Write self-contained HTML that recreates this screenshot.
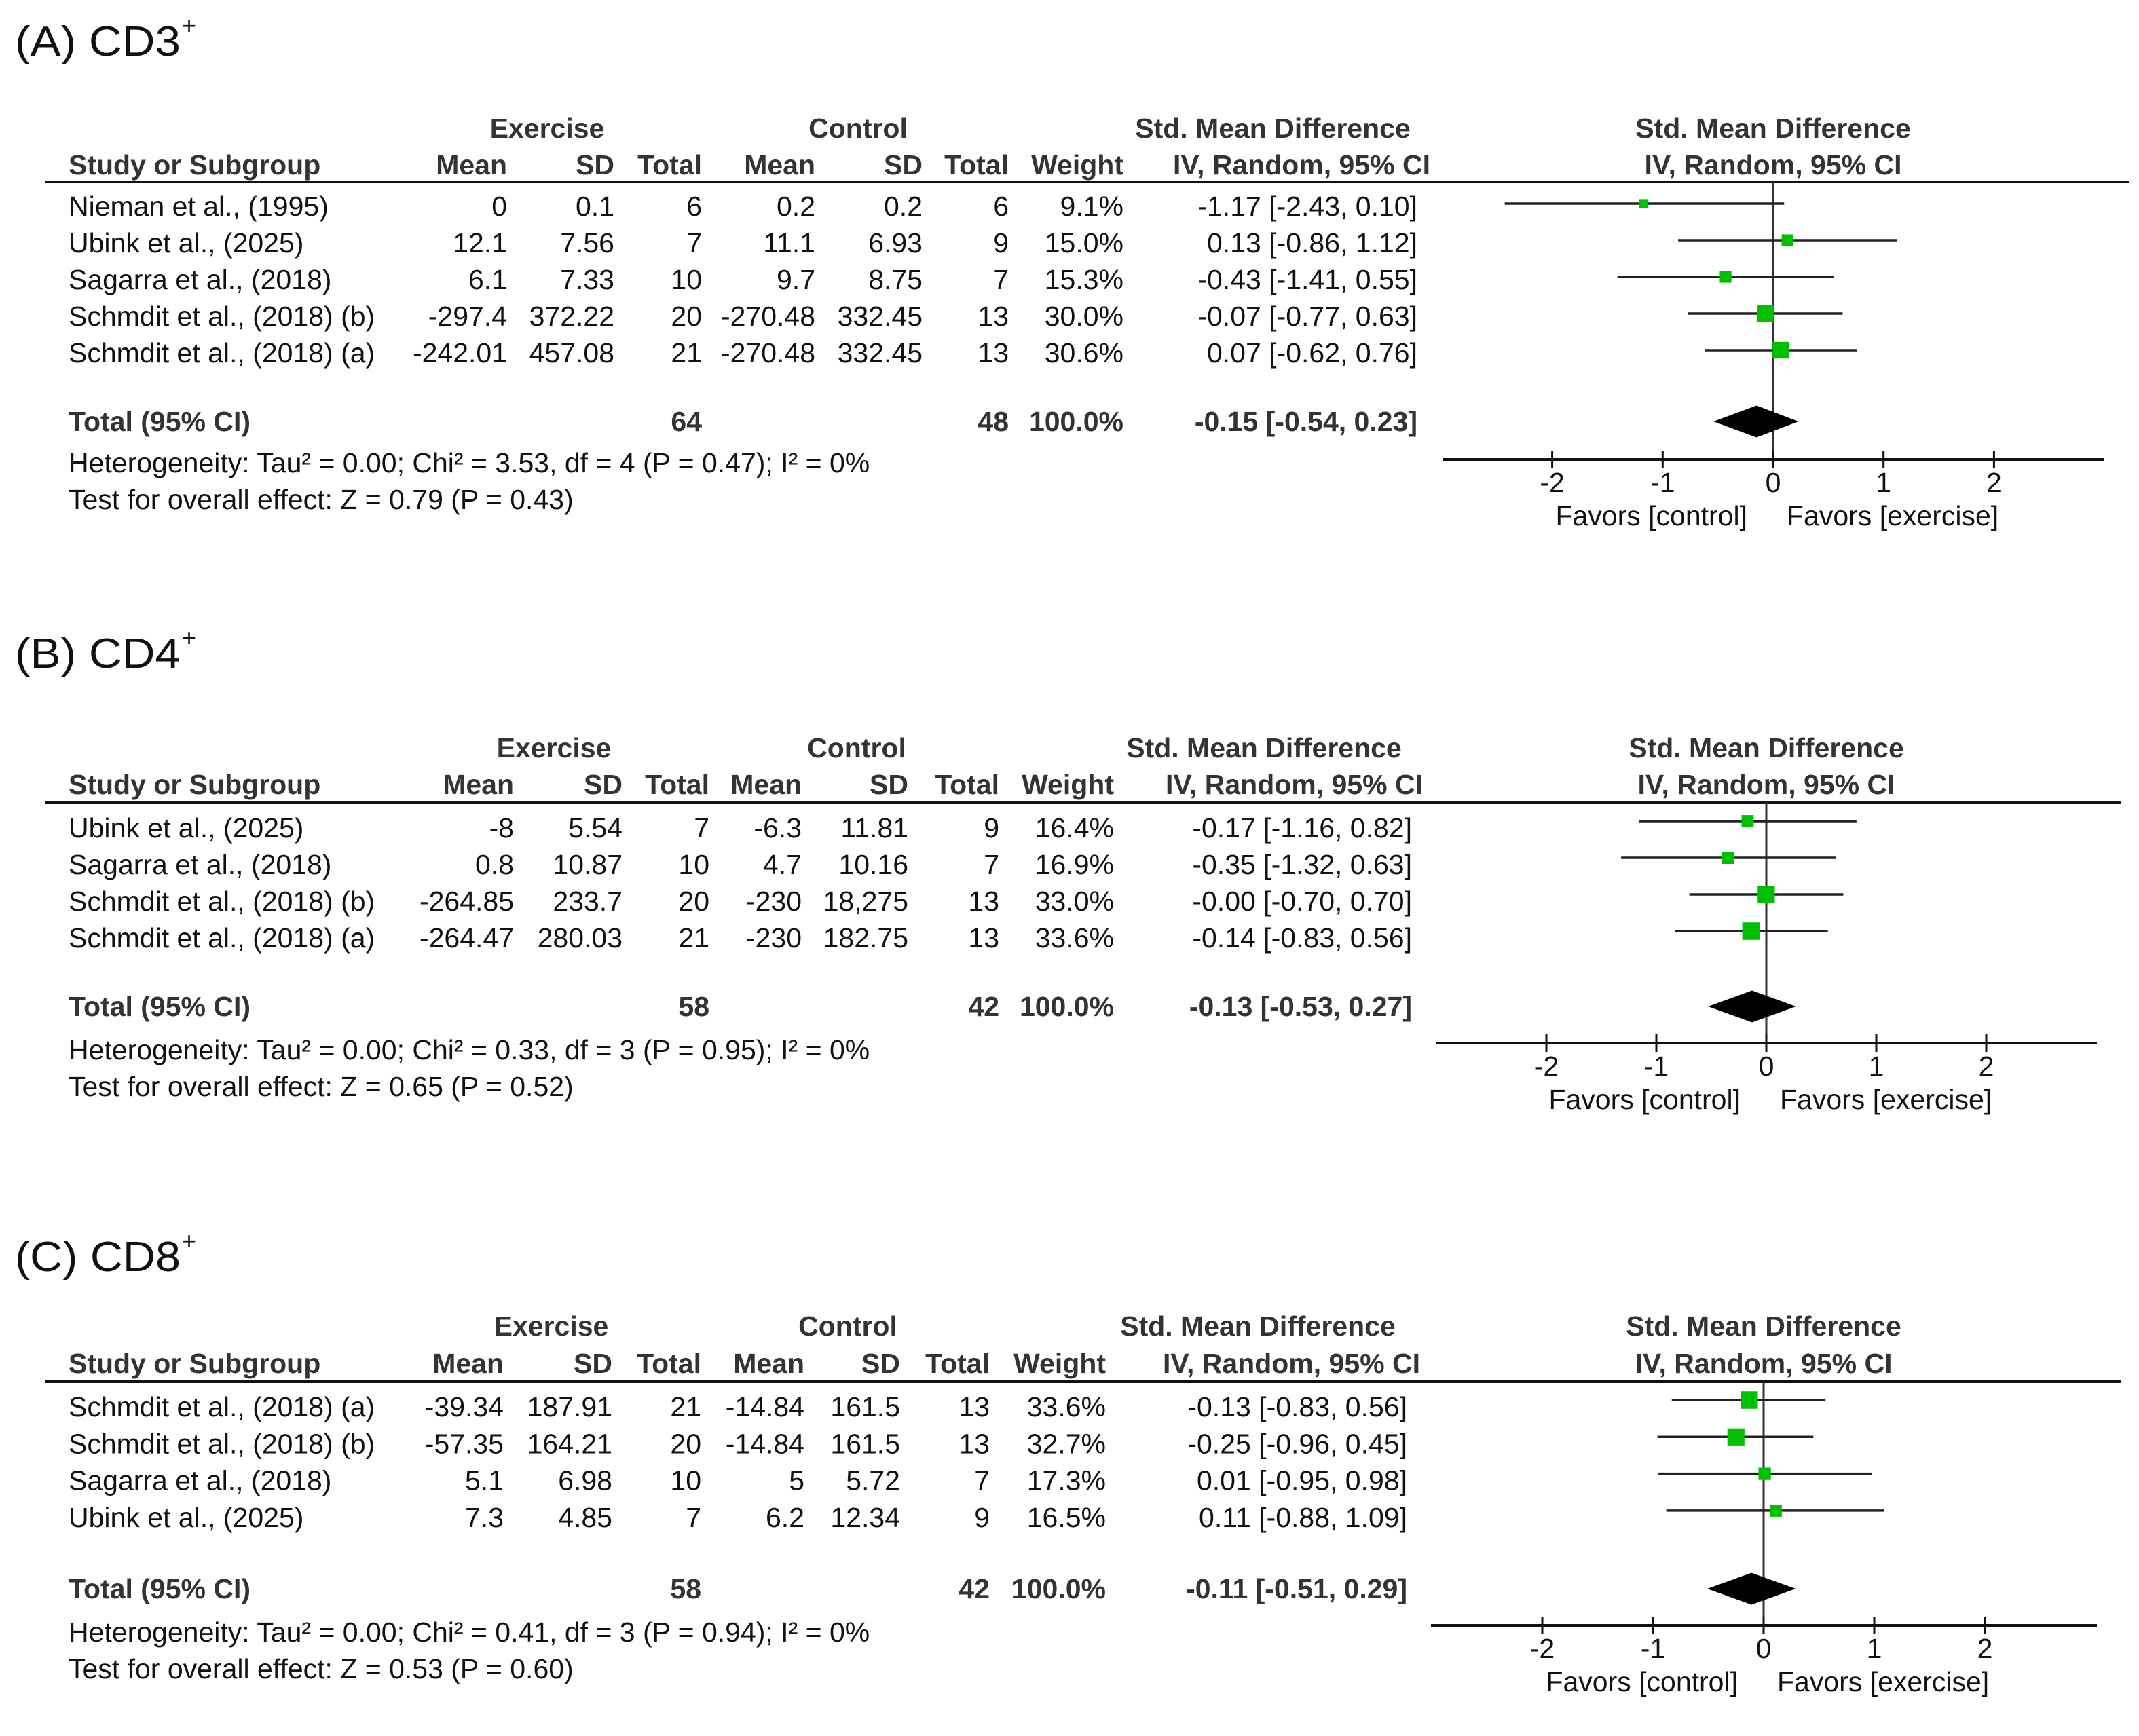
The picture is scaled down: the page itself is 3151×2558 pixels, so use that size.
<!DOCTYPE html>
<html><head><meta charset="utf-8">
<style>
html,body{margin:0;padding:0;background:#fff;}
svg{display:block;font-family:"Liberation Sans",Arial,sans-serif;}
</style></head>
<body>
<svg id="fig" width="3151" height="2558" viewBox="0 0 3151 2558" xmlns="http://www.w3.org/2000/svg"></svg>
<script>
// ---------- Panel A: CD3+ ----------
const aStudy = ["Nieman et al., (1995)","Ubink et al., (2025)","Sagarra et al., (2018)","Schmdit et al., (2018) (b)","Schmdit et al., (2018) (a)"];
const aExMean = ["0","12.1","6.1","-297.4","-242.01"];
const aExSD = ["0.1","7.56","7.33","372.22","457.08"];
const aExN = [6,7,10,20,21];
const aCtMean = ["0.2","11.1","9.7","-270.48","-270.48"];
const aCtSD = ["0.2","6.93","8.75","332.45","332.45"];
const aCtN = [6,9,7,13,13];
const aWeight = [9.1,15.0,15.3,30.0,30.6];
const aSmd = [-1.17,0.13,-0.43,-0.07,0.07];
const aLo = [-2.43,-0.86,-1.41,-0.77,-0.62];
const aHi = [0.10,1.12,0.55,0.63,0.76];
const aTotal = [-0.15,-0.54,0.23];
const aTotalWeight = ["100.0%"];
const aStats = ["Heterogeneity: Tau² = 0.00; Chi² = 3.53, df = 4 (P = 0.47); I² = 0%","Test for overall effect: Z = 0.79 (P = 0.43)"];

// ---------- Panel B: CD4+ ----------
const bStudy = ["Ubink et al., (2025)","Sagarra et al., (2018)","Schmdit et al., (2018) (b)","Schmdit et al., (2018) (a)"];
const bExMean = ["-8","0.8","-264.85","-264.47"];
const bExSD = ["5.54","10.87","233.7","280.03"];
const bExN = [7,10,20,21];
const bCtMean = ["-6.3","4.7","-230","-230"];
const bCtSD = ["11.81","10.16","18,275","182.75"];
const bCtN = [9,7,13,13];
const bWeight = [16.4,16.9,33.0,33.6];
const bSmd = [-0.17,-0.35,-0.001,-0.14];
const bLo = [-1.16,-1.32,-0.70,-0.83];
const bHi = [0.82,0.63,0.70,0.56];
const bTotal = [-0.13,-0.53,0.27];
const bTotalWeight = ["100.0%"];
const bStats = ["Heterogeneity: Tau² = 0.00; Chi² = 0.33, df = 3 (P = 0.95); I² = 0%","Test for overall effect: Z = 0.65 (P = 0.52)"];

// ---------- Panel C: CD8+ ----------
const cStudy = ["Schmdit et al., (2018) (a)","Schmdit et al., (2018) (b)","Sagarra et al., (2018)","Ubink et al., (2025)"];
const cExMean = ["-39.34","-57.35","5.1","7.3"];
const cExSD = ["187.91","164.21","6.98","4.85"];
const cExN = [21,20,10,7];
const cCtMean = ["-14.84","-14.84","5","6.2"];
const cCtSD = ["161.5","161.5","5.72","12.34"];
const cCtN = [13,13,7,9];
const cWeight = [33.6,32.7,17.3,16.5];
const cSmd = [-0.13,-0.25,0.01,0.11];
const cLo = [-0.83,-0.96,-0.95,-0.88];
const cHi = [0.56,0.45,0.98,1.09];
const cTotal = [-0.11,-0.51,0.29];
const cTotalWeight = ["100.0%"];
const cStats = ["Heterogeneity: Tau² = 0.00; Chi² = 0.41, df = 3 (P = 0.94); I² = 0%","Test for overall effect: Z = 0.53 (P = 0.60)"];

const tickValues = [-2,-1,0,1,2];

const NS = "http://www.w3.org/2000/svg";
const svg = document.getElementById("fig");

function mk(parent, tag, attrs){
  const e = document.createElementNS(NS, tag);
  for (const k in attrs) e.setAttribute(k, attrs[k]);
  parent.appendChild(e);
  return e;
}
function txt(parent, x, y, s, anchor, bold, size, fill){
  const e = mk(parent, "text", {x:x, y:y, "text-anchor":anchor||"start", "font-size":size||41,
    "font-weight":bold?"bold":"normal", fill: fill || (bold?"#333":"#111")});
  e.textContent = s;
  return e;
}
function f2(v){ return v.toFixed(2); }
function ciText(s,l,h){ return f2(s)+" ["+f2(l)+", "+f2(h)+"]"; }

function drawPanel(cfg){
  const g = mk(svg, "g", {});
  
  
  const L = cfg.L;

  const t = txt(g, 22, L.title, cfg.title, "start", false, 62, "#111");
  t.setAttribute("textLength", 244); t.setAttribute("lengthAdjust","spacingAndGlyphs");
  
  
  const sup = txt(g, 268, L.title-32, "+", "start", false, 36, "#111");
  
  

  let h;
  h = txt(g, L.exC, L.grp, "Exercise", "middle", true);
  
  
  h = txt(g, L.ctC, L.grp, "Control", "middle", true);
  
  
  h = txt(g, L.smdC, L.grp, "Std. Mean Difference", "middle", true);
  
  
  h = txt(g, L.zero, L.grp, "Std. Mean Difference", "middle", true);
  
  

  const heads = [["Study or Subgroup",101,"start"],["Mean",L.c[0],"end"],["SD",L.c[1],"end"],["Total",L.c[2],"end"],
                 ["Mean",L.c[3],"end"],["SD",L.c[4],"end"],["Total",L.c[5],"end"],["Weight",L.c[6],"end"],
                 ["IV, Random, 95% CI",L.ivR,"end"],["IV, Random, 95% CI",L.zero,"middle"]];
  heads.forEach(function(hd){
    const e = txt(g, hd[1], L.hdr, hd[0], hd[2], true);
    
    
  });
  const ul = mk(g, "line", {x1:66, x2:L.ulEnd, y1:L.ul, y2:L.ul, stroke:"#111", "stroke-width":4});
  
  

  const xs = function(v){ return L.zero + v*L.unit; };
  const n = cfg.study.length;
  const rowY = function(i){ return L.row0 + i*L.rowH; };

  const zl = mk(g, "line", {x1:L.zero, x2:L.zero, y1:L.ul, y2:L.axis, stroke:"#333", "stroke-width":3});
  
  

  for (let i=0;i<n;i++){
    const y = rowY(i);
    const cells = [[cfg.study[i],101,"start"],[cfg.exMean[i],L.c[0],"end"],[cfg.exSD[i],L.c[1],"end"],[String(cfg.exN[i]),L.c[2],"end"],
                   [cfg.ctMean[i],L.c[3],"end"],[cfg.ctSD[i],L.c[4],"end"],[String(cfg.ctN[i]),L.c[5],"end"],
                   [cfg.weight[i].toFixed(1)+"%",L.c[6],"end"],[ciText(cfg.smd[i],cfg.lo[i],cfg.hi[i]),L.ciR,"end"]];
    cells.forEach(function(c){
      const e = txt(g, c[1], y, c[0], c[2], false);
      
      
    });
    const cy = y - L.mOff;
    const ci = mk(g, "line", {x1:xs(cfg.lo[i]), x2:xs(cfg.hi[i]), y1:cy, y2:cy, stroke:"#222", "stroke-width":3.5});
    
    
    const s = 4.4*Math.sqrt(cfg.weight[i]);
    const sq = mk(g, "rect", {x:xs(cfg.smd[i])-s/2, y:cy-s/2, width:s, height:s, fill:"#00c000"});
    
    
  }

  const tr = [["Total (95% CI)",101,"start"],[String(cfg.exN.reduce(function(a,b){return a+b;},0)),L.c[2],"end"],
              [String(cfg.ctN.reduce(function(a,b){return a+b;},0)),L.c[5],"end"],
              [cfg.totalWeight[0],L.c[6],"end"],
              [ciText(cfg.total[0],cfg.total[1],cfg.total[2]),L.ciR,"end"]];
  tr.forEach(function(c){
    const e = txt(g, c[1], L.tot, c[0], c[2], true);
    
    
  });
  const dy = L.tot - 14, dh = 23.5;
  const dm = mk(g, "polygon", {points: xs(cfg.total[1])+","+dy+" "+xs(cfg.total[0])+","+(dy-dh)+" "+xs(cfg.total[2])+","+dy+" "+xs(cfg.total[0])+","+(dy+dh), fill:"#000"});
  
  

  let st = txt(g, 101, L.het, cfg.stats[0], "start", false);
  
  
  st = txt(g, 101, L.het+54, cfg.stats[1], "start", false);
  
  

  const ax = mk(g, "line", {x1:L.axL, x2:L.axR, y1:L.axis, y2:L.axis, stroke:"#111", "stroke-width":4});
  
  
  tickValues.forEach(function(v){
    const tk = mk(g, "line", {x1:xs(v), x2:xs(v), y1:L.axis-13, y2:L.axis+13, stroke:"#111", "stroke-width":3});
    
    
    const tl = txt(g, xs(v), L.axis+48, String(v), "middle", false);
    
    
  });
  let fv = txt(g, L.zero-38, L.axis+97, "Favors [control]", "end", false);
  
  
  fv = txt(g, L.zero+20, L.axis+97, "Favors [exercise]", "start", false);
  
  
}

drawPanel({key:"cd3", title:"(A) CD3", study:aStudy, exMean:aExMean, exSD:aExSD, exN:aExN, ctMean:aCtMean, ctSD:aCtSD, ctN:aCtN,
  weight:aWeight, smd:aSmd, lo:aLo, hi:aHi, total:aTotal, totalWeight:aTotalWeight, stats:aStats,
  L:{title:82, grp:203, hdr:257, ul:268, ulEnd:3137, row0:318, rowH:54, mOff:18, tot:635, het:696,
     c:[747,905,1034,1201,1359,1486,1655], ciR:2088, ivR:2107, exC:806, ctC:1264, smdC:1875,
     zero:2612, unit:162.7, axis:677, axL:2125, axR:3100}});

drawPanel({key:"cd4", title:"(B) CD4", study:bStudy, exMean:bExMean, exSD:bExSD, exN:bExN, ctMean:bCtMean, ctSD:bCtSD, ctN:bCtN,
  weight:bWeight, smd:bSmd, lo:bLo, hi:bHi, total:bTotal, totalWeight:bTotalWeight, stats:bStats,
  L:{title:984, grp:1116, hdr:1170, ul:1182, ulEnd:3125, row0:1234, rowH:54, mOff:24, tot:1497, het:1561,
     c:[757,917,1045,1181,1338,1472,1641], ciR:2080, ivR:2096, exC:816, ctC:1262, smdC:1862,
     zero:2602, unit:162, axis:1537, axL:2115, axR:3089}});

drawPanel({key:"cd8", title:"(C) CD8", study:cStudy, exMean:cExMean, exSD:cExSD, exN:cExN, ctMean:cCtMean, ctSD:cCtSD, ctN:cCtN,
  weight:cWeight, smd:cSmd, lo:cLo, hi:cHi, total:cTotal, totalWeight:cTotalWeight, stats:cStats,
  L:{title:1873, grp:1968, hdr:2023, ul:2036, ulEnd:3125, row0:2087, rowH:54.3, mOff:24, tot:2355, het:2419,
     c:[742,902,1033,1185,1326,1458,1629], ciR:2073, ivR:2092, exC:812, ctC:1249, smdC:1853,
     zero:2598, unit:163, axis:2395, axL:2108, axR:3089}});
</script>
</body></html>
